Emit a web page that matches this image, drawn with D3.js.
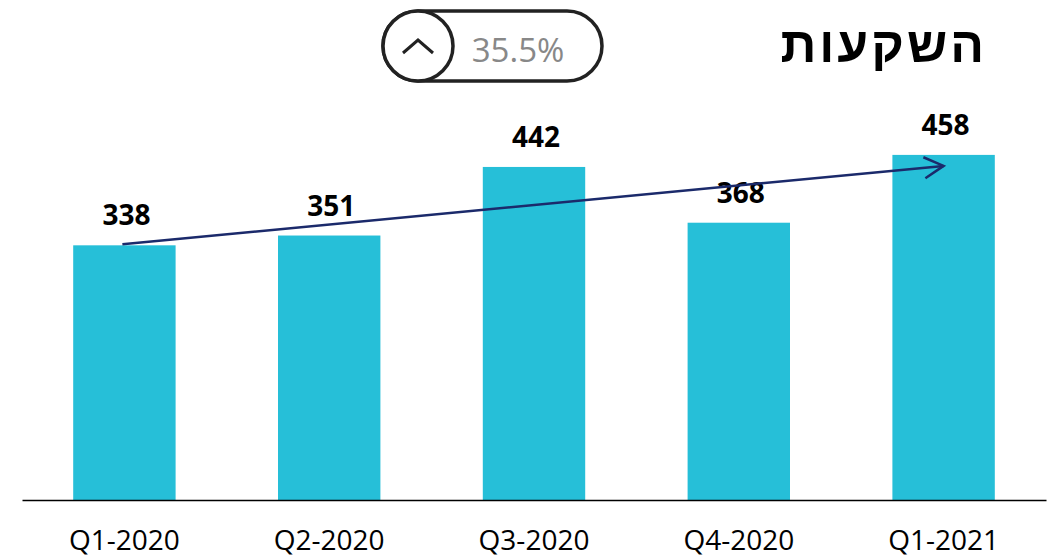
<!DOCTYPE html>
<html lang="he">
<head>
<meta charset="UTF-8">
<title>השקעות</title>
<style>
  body { margin: 0; background: #fff; }
  svg { display: block; font-family: "Open Sans", "Liberation Sans", sans-serif; }
</style>
<script src="https://d3js.org/d3.v7.min.js"></script>
</head>
<body>
<svg id="chart" width="1064" height="557"></svg>
<script>
// data
const quarters = ["Q1-2020", "Q2-2020", "Q3-2020", "Q4-2020", "Q1-2021"];
const investments = [338, 351, 442, 368, 458];
const title = "השקעות";
const growthLabel = "35.5%";

const svg = d3.select("#chart");
const baseY = 500;

const x = d3.scaleBand()
  .domain(quarters)
  .range([22, 1046])
  .paddingInner(0.5)
  .paddingOuter(0.25);

const y = d3.scaleLinear()
  .domain([0, 500])
  .range([baseY, 123.25]);

// bars
svg.selectAll(".bar")
  .data(investments)
  .join("rect")
  .attr("class", "bar")
  .attr("x", (d, i) => x(quarters[i]))
  .attr("y", d => y(d))
  .attr("width", x.bandwidth())
  .attr("height", d => baseY - y(d))
  .attr("fill", "#26bfd8");

// value labels
svg.selectAll(".val")
  .data(investments)
  .join("text")
  .attr("class", "val")
  .attr("x", (d, i) => x(quarters[i]) + x.bandwidth() / 2 + 2)
  .attr("y", d => y(d) - 20)
  .attr("text-anchor", "middle")
  .attr("font-size", 28)
  .attr("font-weight", "bold")
  .attr("fill", "#000")
  .text(d => d);

// x axis
const axis = svg.append("g")
  .attr("transform", `translate(0,${baseY})`)
  .call(d3.axisBottom(x).tickSize(0).tickSizeOuter(0));
axis.select(".domain").attr("stroke", "#000").attr("stroke-width", 1.5);
axis.selectAll("text")
  .attr("y", 50)
  .attr("dy", null)
  .attr("font-size", 28)
  .attr("font-family", "'Open Sans', 'Liberation Sans', sans-serif")
  .attr("fill", "#000");

// trend arrow from first to last bar
const first = quarters[0], last = quarters[quarters.length - 1];
const x0 = x(first) + x.bandwidth() / 2 - 2;
const y0 = y(investments[0]) - 1;
const x1 = x(last) + x.bandwidth() / 2;
const y1 = y(investments[investments.length - 1]) + 11;
const navy = "#1b2a6b";
svg.append("line")
  .attr("x1", x0).attr("y1", y0)
  .attr("x2", x1).attr("y2", y1)
  .attr("stroke", navy)
  .attr("stroke-width", 2.5);
const ang = Math.atan2(y1 - y0, x1 - x0);
const headLen = 22, headAng = 0.5;
svg.append("path")
  .attr("d", `M${x1 - headLen * Math.cos(ang - headAng)},${y1 - headLen * Math.sin(ang - headAng)}L${x1},${y1}L${x1 - headLen * Math.cos(ang + headAng)},${y1 - headLen * Math.sin(ang + headAng)}`)
  .attr("fill", "none")
  .attr("stroke", navy)
  .attr("stroke-width", 2.5)
  .attr("stroke-linejoin", "miter");

// title
svg.append("text")
  .attr("x", 987)
  .attr("y", 62)
  .attr("text-anchor", "end")
  .attr("font-family", "'Liberation Sans', 'DejaVu Sans', sans-serif")
  .attr("font-size", 50)
  .attr("font-weight", "bold")
  .attr("letter-spacing", 3)
  .attr("fill", "#000")
  .text(title);

// growth pill
const pill = svg.append("g");
pill.append("rect")
  .attr("x", 383).attr("y", 11)
  .attr("width", 219).attr("height", 70)
  .attr("rx", 35)
  .attr("fill", "#fff")
  .attr("stroke", "#222")
  .attr("stroke-width", 3.5);
pill.append("circle")
  .attr("cx", 418).attr("cy", 46).attr("r", 35)
  .attr("fill", "#fff")
  .attr("stroke", "#222")
  .attr("stroke-width", 3.5);
pill.append("path")
  .attr("d", "M403,53L418,40L433,53")
  .attr("fill", "none")
  .attr("stroke", "#222")
  .attr("stroke-width", 3);
pill.append("text")
  .attr("x", 518).attr("y", 62)
  .attr("text-anchor", "middle")
  .attr("font-size", 33)
  .attr("fill", "#888")
  .text(growthLabel);
</script>
</body>
</html>
